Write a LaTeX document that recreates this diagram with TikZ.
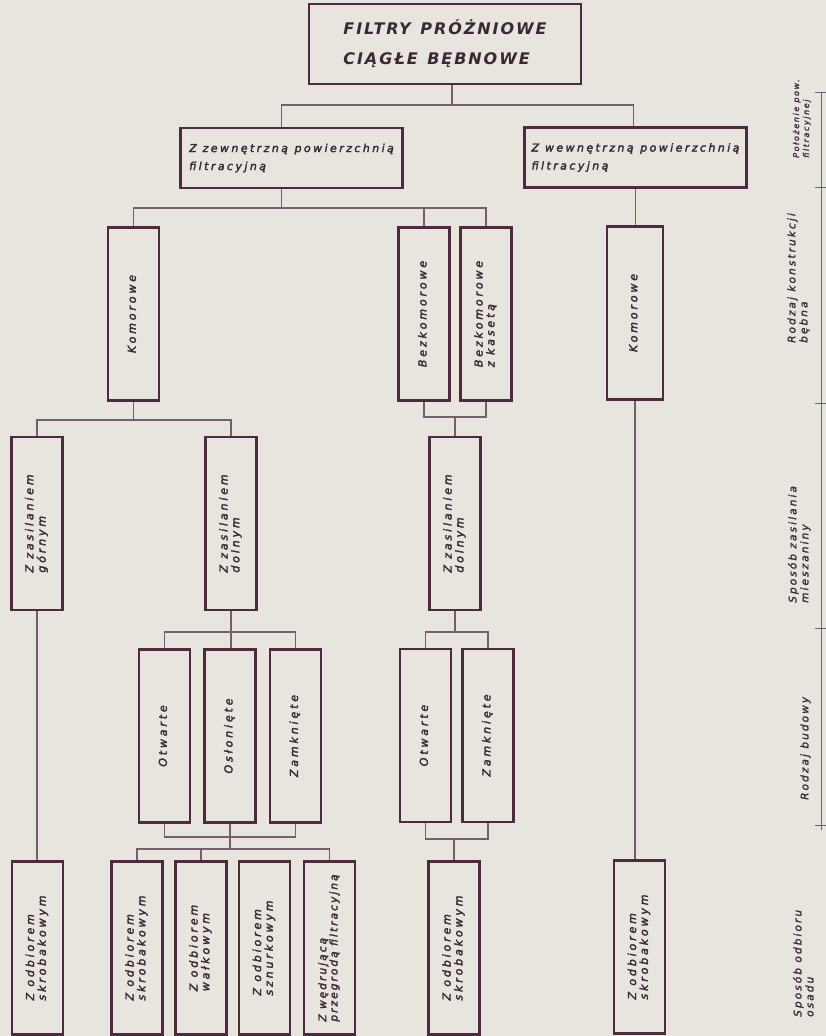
\documentclass[tikz,border=0pt]{standalone}
\usepackage{fontspec}
\usepackage{graphicx}
\setmainfont{DejaVu Sans}
\newfontfamily\napis{DejaVu Sans}[LetterSpace=26, FakeBold=2.5]
\newfontfamily\napisciasny{DejaVu Sans}[LetterSpace=20, FakeBold=2.5]
\newfontfamily\napispoz{DejaVu Sans}[LetterSpace=22, FakeBold=2.5]
\newfontfamily\napistyt{DejaVu Sans}[LetterSpace=12]
\newfontfamily\napisbok{DejaVu Sans}[LetterSpace=20, FakeBold=1.5]

\definecolor{tlo}{RGB}{231,229,222}
\definecolor{ramka}{RGB}{78,42,62}
\definecolor{linia}{RGB}{118,94,108}
\definecolor{pismo}{RGB}{58,40,52}

\newcommand{\pion}[1]{\rotatebox{90}{\begin{tabular}{@{}l@{}}#1\end{tabular}}}

\tikzset{
	blok/.style={draw=ramka, line width=2.6pt, minimum width=51pt, minimum height=173pt,
		inner sep=0pt, text=pismo, font=\napis\itshape\fontsize{11}{11.5}\selectfont},
	blokpoz/.style={draw=ramka, line width=2.6pt, minimum width=222pt, minimum height=60pt,
		inner sep=2pt, align=left, text=pismo, font=\napispoz\itshape\fontsize{11}{18}\selectfont},
	tytulowy/.style={draw=ramka, line width=2.8pt, minimum width=272pt, minimum height=80pt,
		inner sep=3pt, align=left, text=pismo, font=\napistyt\bfseries\itshape\fontsize{16}{30}\selectfont},
	laczenie/.style={draw=linia, line width=1.1pt},
	skala/.style={draw=linia, line width=1pt},
	opis/.style={anchor=south, inner sep=0pt, text=pismo, font=\napisbok\itshape\fontsize{10.5}{12}\selectfont}
}

\begin{document}
\begin{tikzpicture}[x=1pt, y=-1pt]
	\useasboundingbox (0,0) rectangle (826,1036);
	\fill[tlo] (0,0) rectangle (826,1036);

	%%%%% bloki %%%%%
	\node[tytulowy] (tytul) at (445,44) {FILTRY\hspace{0.6em}PRÓŻNIOWE\\CIĄGŁE\hspace{0.6em}BĘBNOWE};

	\node[blokpoz] (zew) at (291.5,158) {Z zewnętrzną\hspace{0.6em}powierzchnią\\filtracyjną};
	\node[blokpoz] (wew) at (635.5,157.5) {Z wewnętrzną\hspace{0.6em}powierzchnią\\filtracyjną};

	\node[blok] (kom1) at (133.5,314) {\pion{Komorowe}};
	\node[blok] (bez) at (424,314) {\pion{Bezkomorowe}};
	\node[blok] (bezk) at (486,314) {\pion{Bezkomorowe\\z kasetą}};
	\node[blok, minimum width=56pt] (kom2) at (635,313) {\pion{Komorowe}};

	\node[blok] (zg) at (37,523.5) {\pion{Z zasilaniem\\górnym}};
	\node[blok] (zd1) at (231,523.5) {\pion{Z zasilaniem\\dolnym}};
	\node[blok] (zd2) at (455,523.5) {\pion{Z zasilaniem\\dolnym}};

	\node[blok] (otw1) at (164.5,736) {\pion{Otwarte}};
	\node[blok] (osl) at (230,736) {\pion{Osłonięte}};
	\node[blok] (zam1) at (295.5,736) {\pion{Zamknięte}};
	\node[blok] (otw2) at (425.5,735.5) {\pion{Otwarte}};
	\node[blok] (zam2) at (488,735.5) {\pion{Zamknięte}};

	\node[blok] (o1) at (37.5,948) {\pion{Z odbiorem\\skrobakowym}};
	\node[blok] (o2) at (137,948) {\pion{Z odbiorem\\skrobakowym}};
	\node[blok] (o3) at (201,948) {\pion{Z odbiorem\\wałkowym}};
	\node[blok] (o4) at (264.5,948) {\pion{Z odbiorem\\sznurkowym}};
	\node[blok, font=\napisciasny\itshape\fontsize{10.5}{11}\selectfont] (o5) at (329.5,948) {\pion{Z wędrującą\\przegrodą filtracyjną}};
	\node[blok] (o6) at (454,948) {\pion{Z odbiorem\\skrobakowym}};
	\node[blok] (o7) at (639.5,947) {\pion{Z odbiorem\\skrobakowym}};

	%%%%% szyny %%%%%
	\coordinate (szyna0) at (0,105);
	\coordinate (szyna1) at (0,208);
	\coordinate (szyna2) at (0,420);
	\coordinate (klamra2) at (0,417);
	\coordinate (szyna3) at (0,632);
	\coordinate (klamra4) at (0,837);
	\coordinate (szyna4) at (0,849);
	\coordinate (klamra4b) at (0,839);

	\draw[laczenie] ([xshift=7pt]tytul.south) -- ([xshift=7pt]tytul.south |- szyna0);
	\draw[laczenie] ([xshift=-10pt]zew.north) |- ([xshift=-2pt]wew.north |- szyna0) -- ([xshift=-2pt]wew.north);

	\draw[laczenie] ([xshift=-10pt]zew.south) -- ([xshift=-10pt]zew.south |- szyna1);
	\draw[laczenie] (kom1.north) |- (bezk.north |- szyna1) -- (bezk.north);
	\draw[laczenie] (bez.north) -- (bez.north |- szyna1);
	\draw[laczenie] (wew.south) -- (wew.south |- kom2.north);

	\draw[laczenie] (kom1.south) -- (kom1.south |- szyna2);
	\draw[laczenie] (zg.north) |- (zd1.north |- szyna2) -- (zd1.north);
	\draw[laczenie] (bez.south) |- (bezk.south |- klamra2) -- (bezk.south);
	\draw[laczenie] (zd2.north |- klamra2) -- (zd2.north);

	\draw[laczenie] (zg.south) -- (zg.south |- o1.north);
	\draw[laczenie] (zd1.south) -- (zd1.south |- osl.north);
	\draw[laczenie] (otw1.north) |- (zam1.north |- szyna3) -- (zam1.north);
	\draw[laczenie] (zd2.south) -- (zd2.south |- szyna3);
	\draw[laczenie] (otw2.north) |- (zam2.north |- szyna3) -- (zam2.north);

	\draw[laczenie] (otw1.south) |- (zam1.south |- klamra4) -- (zam1.south);
	\draw[laczenie] (osl.south) -- (osl.south |- szyna4);
	\draw[laczenie] (o2.north) |- (o5.north |- szyna4) -- (o5.north);
	\draw[laczenie] (o3.north) -- (o3.north |- szyna4);
	\draw[laczenie] (otw2.south) |- (zam2.south |- klamra4b) -- (zam2.south);
	\draw[laczenie] (o6.north |- klamra4b) -- (o6.north);
	\draw[laczenie] (kom2.south) -- (kom2.south |- o7.north);

	%%%%% skala z prawej %%%%%
	\draw[skala] (821,92) -- (821,830);
	\foreach \y in {92,187,403,628,825}
		\draw[skala] (815,\y) -- (827,\y);

	\node[opis, font=\napisbok\itshape\fontsize{8}{10}\selectfont] (pol) at (802,158) {\pion{Położenie pow.\\filtracyjnej}};
	\node[opis] (kon) at (799,343) {\pion{Rodzaj konstrukcji\\bębna}};
	\node[opis] (zas) at (800,603) {\pion{Sposób zasilania\\mieszaniny}};
	\node[opis] (bud) at (806,800) {\pion{Rodzaj budowy}};
	\node[opis] (odb) at (805,1017) {\pion{Sposób odbioru\\osadu}};
\end{tikzpicture}
\end{document}
